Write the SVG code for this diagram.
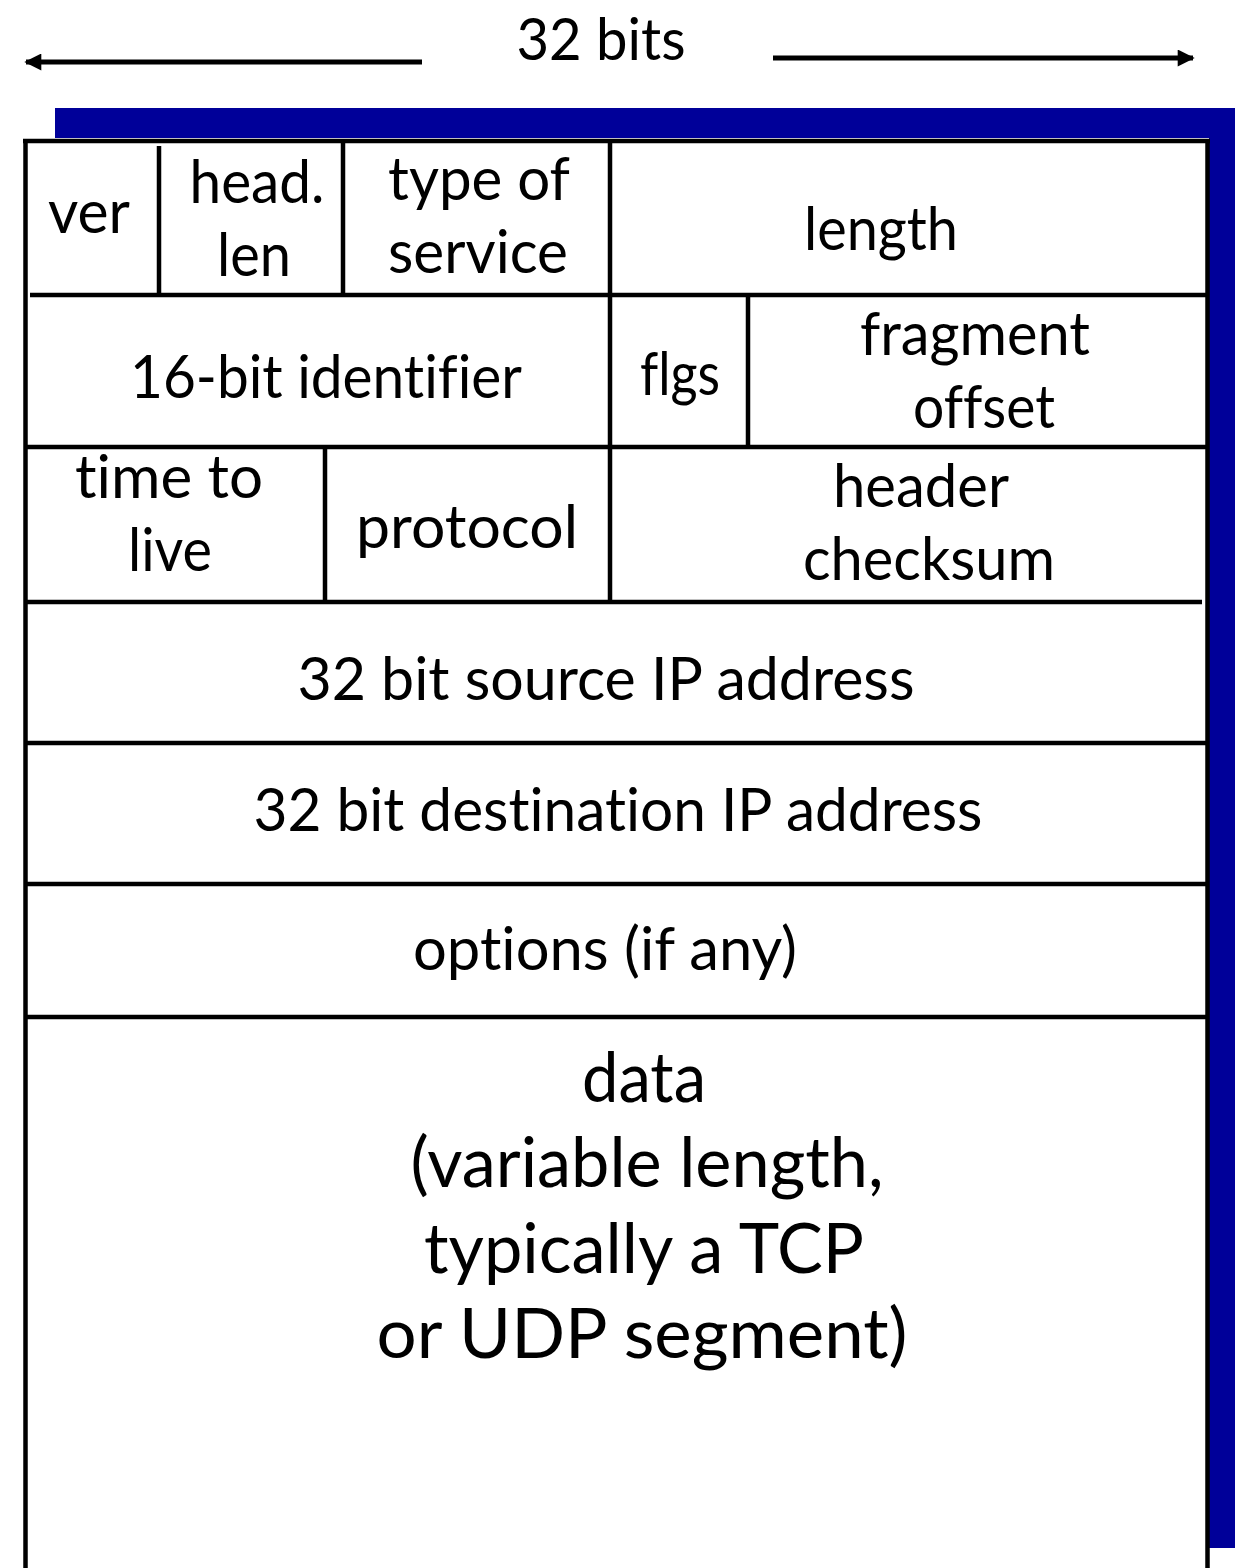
<svg xmlns="http://www.w3.org/2000/svg" width="1243" height="1568" viewBox="0 0 1243 1568">
<style>
.t{font-family:Lato,"Open Sans","Liberation Sans",sans-serif;font-size:60px;fill:#000;text-anchor:middle;font-variant-ligatures:none;font-feature-settings:"liga" 0,"clig" 0}
.big{font-size:70px}
.ln{stroke:#000;stroke-width:4.5;fill:none}
.blue{fill:#000099}
.arr{stroke:#000;stroke-width:5;fill:none}
</style>
<defs>
<marker id="ah" viewBox="0 0 10 10" refX="9" refY="5" markerWidth="4.2" markerHeight="3.4" orient="auto" markerUnits="strokeWidth">
<path d="M0,0 L10,5 L0,10 z" fill="#000"/>
</marker>
</defs>
<rect width="1243" height="1568" fill="#fff"/>
<g id="shadow">
<rect class="blue" x="55" y="108" width="1180" height="30"/>
<rect class="blue" x="1209" y="108" width="26" height="1440"/>
</g>
<g id="frame">
<line class="ln" x1="25.5" y1="139" x2="25.5" y2="1568"/>
<line class="ln" x1="23" y1="141" x2="1210" y2="141"/>
<line class="ln" x1="1207.5" y1="139" x2="1207.5" y2="1568"/>
<line class="ln" x1="30" y1="295" x2="1207" y2="295"/>
<line class="ln" x1="26" y1="447" x2="1207" y2="447"/>
<line class="ln" x1="26" y1="602" x2="1202" y2="602"/>
<line class="ln" x1="26" y1="743" x2="1207" y2="743"/>
<line class="ln" x1="26" y1="884" x2="1207" y2="884"/>
<line class="ln" x1="26" y1="1017" x2="1207" y2="1017"/>
<line class="ln" x1="159" y1="146" x2="159" y2="295"/>
<line class="ln" x1="343" y1="141" x2="343" y2="295"/>
<line class="ln" x1="610" y1="141" x2="610" y2="602"/>
<line class="ln" x1="748" y1="295" x2="748" y2="447"/>
<line class="ln" x1="325" y1="447" x2="325" y2="602"/>
</g>
<g id="connectors">
<line class="arr" x1="422" y1="62" x2="26" y2="62" marker-end="url(#ah)"/>
<line class="arr" x1="773" y1="58" x2="1193" y2="58" marker-end="url(#ah)"/>
</g>
<g id="width-label"><text class="t" x="601" y="60" textLength="169" lengthAdjust="spacingAndGlyphs" style="font-size:58px">32 bits</text></g>
<g id="ver"><text class="t" x="89" y="233" textLength="82" lengthAdjust="spacingAndGlyphs">ver</text></g>
<g id="head-len"><text class="t" x="257" y="203" textLength="135" lengthAdjust="spacingAndGlyphs">head.</text><text class="t" x="254" y="276" textLength="74" lengthAdjust="spacingAndGlyphs">len</text></g>
<g id="tos"><text class="t" x="479" y="200" textLength="182" lengthAdjust="spacingAndGlyphs">type of</text><text class="t" x="478" y="273" textLength="180" lengthAdjust="spacingAndGlyphs">service</text></g>
<g id="length"><text class="t" x="881" y="250" textLength="154" lengthAdjust="spacingAndGlyphs">length</text></g>
<g id="identifier"><text class="t" x="326" y="398" textLength="392" lengthAdjust="spacingAndGlyphs">16-bit identifier</text></g>
<g id="flgs"><text class="t" x="680" y="395" textLength="80" lengthAdjust="spacingAndGlyphs">flgs</text></g>
<g id="fragment-offset"><text class="t" x="975" y="355" textLength="230" lengthAdjust="spacingAndGlyphs">fragment</text><text class="t" x="984" y="428" textLength="142" lengthAdjust="spacingAndGlyphs">offset</text></g>
<g id="ttl"><text class="t" x="169" y="498" textLength="188" lengthAdjust="spacingAndGlyphs">time to</text><text class="t" x="170" y="571" textLength="84" lengthAdjust="spacingAndGlyphs">live</text></g>
<g id="protocol"><text class="t" x="467" y="548" textLength="222" lengthAdjust="spacingAndGlyphs">protocol</text></g>
<g id="checksum"><text class="t" x="921" y="507" textLength="176" lengthAdjust="spacingAndGlyphs">header</text><text class="t" x="929" y="580" textLength="252" lengthAdjust="spacingAndGlyphs">checksum</text></g>
<g id="src"><text class="t" x="606" y="700" textLength="617" lengthAdjust="spacingAndGlyphs">32 bit source IP address</text></g>
<g id="dst"><text class="t" x="618" y="831" textLength="729" lengthAdjust="spacingAndGlyphs">32 bit destination IP address</text></g>
<g id="options"><text class="t" x="605" y="970" textLength="384" lengthAdjust="spacingAndGlyphs">options (if any)</text></g>
<g id="data">
<text class="t big" x="644" y="1102" textLength="124" lengthAdjust="spacingAndGlyphs">data</text>
<text class="t big" x="647" y="1187" textLength="473" lengthAdjust="spacingAndGlyphs">(variable length,</text>
<text class="t big" x="644" y="1273" textLength="440" lengthAdjust="spacingAndGlyphs">typically a TCP</text>
<text class="t big" x="642" y="1358" textLength="531" lengthAdjust="spacingAndGlyphs">or UDP segment)</text>
</g>
</svg>
